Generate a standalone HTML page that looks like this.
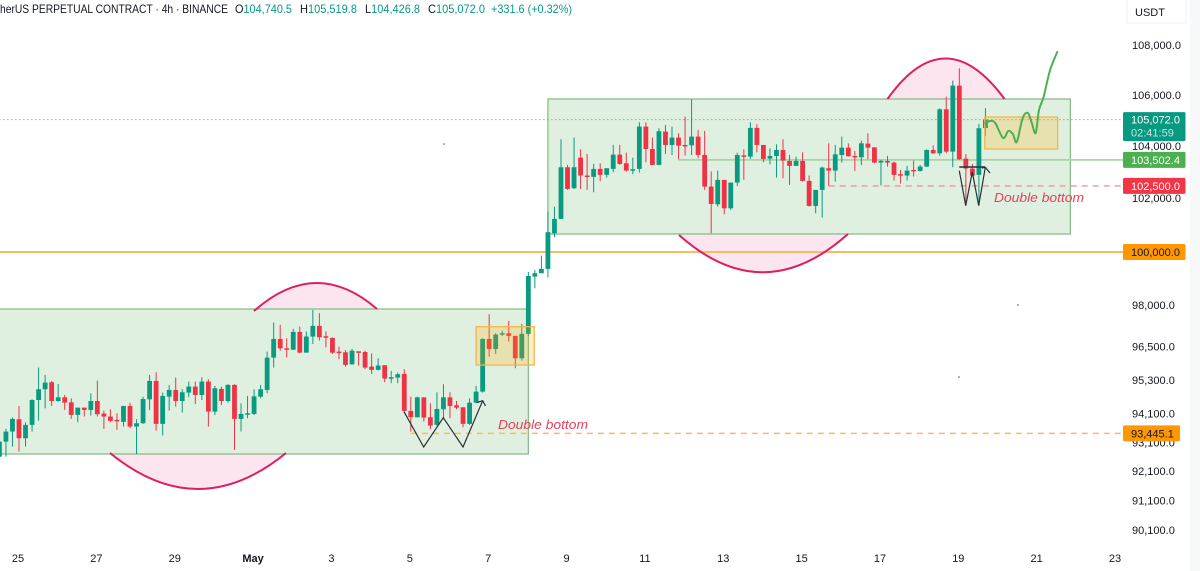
<!DOCTYPE html>
<html lang="en">
<head>
<meta charset="utf-8">
<title>Bitcoin perpetual 4h chart</title>
<style>
html,body{margin:0;padding:0;background:#fff;}
svg{display:block;font-family:"Liberation Sans",sans-serif;}
</style>
</head>
<body>
<svg id="chart" xmlns="http://www.w3.org/2000/svg" width="1200" height="571" viewBox="0 0 1200 571">
  <rect x="0" y="0" width="1200" height="571" fill="#ffffff"/>
  <rect x="1190" y="0" width="10" height="571" fill="#f7f8f9"/>

  <path d="M110,454 Q198,525 286,454 Z" fill="#fce5ee" stroke="none"/>
  <path d="M254,311 Q316,256 377,309 Z" fill="#fce5ee" stroke="none"/>
  <path d="M679,234 Q763,310 848,234 Z" fill="#fce5ee" stroke="none"/>
  <path d="M887.5,99 Q945,18 1004.5,99 Z" fill="#fce5ee" stroke="none"/>

  <g id="zones"></g>
  <g id="levels"></g>

  <path d="M110,453 Q198,525 286,453" fill="none" stroke="#dc1f64" stroke-width="2"/>
  <path d="M254,311 Q316,256 377,309" fill="none" stroke="#dc1f64" stroke-width="2"/>
  <path d="M679,235 Q763,310 848,234" fill="none" stroke="#dc1f64" stroke-width="2"/>
  <path d="M887.5,99 Q945,18 1004.5,99" fill="none" stroke="#dc1f64" stroke-width="2"/>

  <g id="candles"></g>
  <g id="overlays"></g>

  <path d="M404,411.7 L423.7,447 L443.3,417.7 L463,447 L482.7,400.7" fill="none" stroke="#2a2e39" stroke-width="1.2"/>
  <path d="M477,402.5 L482.7,400.7 L485.5,406" fill="none" stroke="#2a2e39" stroke-width="1.2"/>
  <path d="M959.3,170.7 L965.7,205.7 L972.3,172 L978.7,205.7 L985.3,167.3" fill="none" stroke="#2a2e39" stroke-width="1.2"/>
  <path d="M959.3,167 L985,167" fill="none" stroke="#2a2e39" stroke-width="1.5"/>
  <path d="M982,168 L985.3,167.3 L990,173" fill="none" stroke="#2a2e39" stroke-width="1.2"/>

  <path id="forecast" fill="none" stroke="#4caf50" stroke-width="2" stroke-linejoin="round" stroke-linecap="round"/>

  <text x="498" y="429" font-size="12.5" font-style="italic" fill="#e8405a" textLength="90" lengthAdjust="spacingAndGlyphs">Double bottom</text>
  <text x="994" y="202" font-size="12.5" font-style="italic" fill="#e8405a" textLength="90" lengthAdjust="spacingAndGlyphs">Double bottom</text>

  <circle cx="444" cy="144" r="0.8" fill="#555"/>
  <circle cx="1018" cy="305" r="0.8" fill="#555"/>
  <circle cx="959" cy="377" r="0.8" fill="#555"/>

  <g id="price-axis"></g>
  <g id="tags"></g>
  <g id="time-axis"></g>

  <rect x="1127" y="-1" width="59" height="24" fill="#ffffff" stroke="#f0f1f3"/>
  <text x="1135" y="16" font-size="11" fill="#131722">USDT</text>

  <g font-size="12">
    <text x="0" y="13" fill="#131722" textLength="228" lengthAdjust="spacingAndGlyphs">herUS PERPETUAL CONTRACT · 4h · BINANCE</text>
    <text x="235" y="13" fill="#089981" textLength="57" lengthAdjust="spacingAndGlyphs"><tspan fill="#131722">O</tspan>104,740.5</text>
    <text x="300" y="13" fill="#089981" textLength="57" lengthAdjust="spacingAndGlyphs"><tspan fill="#131722">H</tspan>105,519.8</text>
    <text x="365" y="13" fill="#089981" textLength="55" lengthAdjust="spacingAndGlyphs"><tspan fill="#131722">L</tspan>104,426.8</text>
    <text x="428" y="13" fill="#089981" textLength="57" lengthAdjust="spacingAndGlyphs"><tspan fill="#131722">C</tspan>105,072.0</text>
    <text x="491" y="13" fill="#089981" textLength="81" lengthAdjust="spacingAndGlyphs">+331.6 (+0.32%)</text>
  </g>
</svg>
<script>
var opens = [
92636,93160,93510,93942,93277,93744,94619,95000,95250,94584,
94714,94537,94094,94351,94269,94584,94141,94036,93919,93849,
94409,93685,93802,94643,95297,93779,94738,94976,94584,94881,
95095,94798,95274,94211,95012,94584,95155,93954,94129,94129,
94738,94976,96130,96804,96465,96416,97058,96309,96889,97277,
96901,96840,96345,96321,95892,96356,96333,95809,95690,95857,
95393,95416,95547,94234,94012,94714,94012,93744,94292,94714,
94432,94362,93779,94526,94917,96804,96440,96962,97010,96913,
96107,96986,99087,99210,99371,100704,101245,103218,102411,103590,
102898,102847,103154,102924,103154,103706,103372,103103,103154,104799,
103924,103308,104603,104081,104368,104081,104068,104407,103693,102475,
101798,102731,101647,102629,103680,103629,104747,104081,103552,103654,
103885,103462,103270,103462,102693,101736,102347,103180,103090,103692,
103976,103654,103603,104133,103989,103398,103462,103398,102949,102898,
103116,103077,103244,103885,103757,105478,103821,106416,103551,103167,
102924,104740
];
var highs = [
93160,93604,94000,94409,93837,94643,95773,95512,95297,95190,
94798,94679,94351,94351,94857,95309,94246,94292,94152,94409,
94526,93942,94738,95512,95607,94881,95155,95416,95000,95274,
95274,95428,95357,95119,95095,95178,95178,94502,94762,95000,
95155,96345,97398,97313,96828,97168,97252,97071,97858,97737,
97071,96865,96525,96404,96440,96356,96380,96285,96107,95857,
95654,95595,95714,94738,94738,94714,94502,94893,95178,94893,
94584,94362,94679,95119,96828,97701,97010,97107,97458,96913,
97349,99255,99334,99865,101522,101710,104303,103308,104368,103911,
103731,103347,103372,103180,104085,104085,103782,103590,104969,104969,
104368,104734,104864,104799,104538,105191,105870,104668,104629,103052,
103090,102731,102629,103782,103911,104969,104890,104081,103949,104107,
104303,103693,103629,103795,102898,102347,103244,104146,104081,104407,
104146,103846,104250,104538,103989,103500,103654,103436,103116,103270,
103475,103308,103911,104068,105517,105977,106616,107108,103731,103346,
104904,105519.8
];
var lows = [
92578,92636,92985,92810,92985,93510,93895,94327,94409,94560,
94269,93954,93837,94036,94071,94036,93604,93837,93569,93685,
93627,92728,93779,94269,93545,93370,94246,94386,94175,94714,
94479,94619,93685,94094,94444,94526,92868,93510,93977,94094,
94679,94857,95773,96380,96142,96404,96285,96309,96622,96743,
96501,96261,96071,95809,95869,95845,95714,95547,95666,95250,
95214,95214,94187,93510,94000,93860,93592,93720,93942,93977,
94292,93662,93744,94502,94881,96166,96261,96913,96707,95749,
96023,96910,98655,99210,99050,100553,101245,102347,102385,102385,
102347,102257,102680,102821,103026,103308,103052,102949,103013,103411,
103296,103296,103731,103693,103526,103667,103693,103565,102347,100704,
101710,101421,101585,102501,102731,103539,103795,103411,103334,102821,
102795,102539,103270,102667,101710,101459,101295,102500,102667,103398,
103628,103077,103308,103526,103372,102513,103244,102706,102590,102706,
102860,103052,103231,103731,103667,103757,103218,103500,101773,102860,
101773,104426.8
];
var closes = [
93160,93510,93954,93277,93744,94619,95000,95238,94584,94714,
94526,94094,94351,94269,94584,94118,94036,93884,93895,94409,
93685,93802,94655,95297,93779,94762,94976,94584,94893,95095,
94798,95274,94211,95036,94584,95155,93954,94129,94152,94750,
95000,96130,96804,96465,96440,97058,96309,96889,97277,96865,
96877,96309,96321,95869,96380,96321,95773,95690,95845,95381,
95428,95535,94234,94012,94714,94000,93720,94304,94714,94409,
94351,93779,94526,94917,96804,96440,96962,97010,96913,96107,
96986,99107,99210,99371,100742,101245,103218,102385,103218,102898,
102847,103154,102924,103180,103706,103347,103090,103141,104799,103924,
103308,104616,104081,104368,104055,104055,104407,103693,102475,101811,
102731,101647,102629,103693,103629,104747,104081,103539,103654,103885,
103475,103270,103462,102693,101736,102347,103205,103090,103718,103976,
103641,103628,104146,103976,103398,103462,103398,102924,102924,103090,
103090,103244,103885,103757,105478,103821,106416,103526,103167,102898,
104734,105072
];

var dayLabels = ['25','27','29','May','3','5','7','9','11','13','15','17','19','21','23'];
var dayOffsets = [0,2,4,6,8,10,12,14,16,18,20,22,24,26,28];

var priceTicks = [108000,106000,104000,102000,100000,98000,96500,95300,94100,93100,92100,91100,90100];

var forecastIndex = [148,148.7,149.5,150.7,151.5,152.2,152.8,153.7,154.5,155.1,155.7,156.2,156.9,157.9,159];
var forecastPrice = [104938,105017,104938,104352,104626,104509,104197,105135,105331,104938,104547,105449,105963,107038,107760];

var lastPrice = 105072;
var entryLevel = 103502.4;
var stopLevel = 102500;
var roundLevel = 100000;
var supportLevel = 93445.1;

var zoneLeftIndex = [-3,81];
var zoneRightIndex = [78,161];
var zoneTopPrice = [97893,105884];
var zoneBottomPrice = [92729,100675];

var targetLeftIndex = [70,147.9];
var targetRightIndex = [78.9,159.06];
var targetTopPrice = [97247,105174];
var targetBottomPrice = [95865,103924];

var NS = 'http://www.w3.org/2000/svg';
var firstCandleIndex = -3;

function xScale(i){ return 19 + 6.53 * i; }
function yScale(p){ return 252 - 2676 * Math.log(p / 100000); }
function fmt(p){
  var s = p.toFixed(1).split('.');
  return s[0].replace(/\B(?=(\d{3})+(?!\d))/g, ',') + '.' + s[1];
}
function mk(tag, parent, attrs){
  var el = document.createElementNS(NS, tag);
  for (var k in attrs) el.setAttribute(k, attrs[k]);
  parent.appendChild(el);
  return el;
}

var zones = document.getElementById('zones');
zoneLeftIndex.forEach(function(l, i){
  var x0 = xScale(l), x1 = xScale(zoneRightIndex[i]);
  var y0 = yScale(zoneTopPrice[i]), y1 = yScale(zoneBottomPrice[i]);
  var r = mk('rect', zones, {x:x0, y:y0, width:x1-x0, height:y1-y0, fill:'#e0f0e0', stroke:'#82b982', 'stroke-width':1.2});
  
  
});

var levels = document.getElementById('levels');
function hLine(price, fromIdx, color, width, dash, name){
  var y = yScale(price);
  var l = mk('line', levels, {x1:xScale(fromIdx), x2:1123, y1:y, y2:y, stroke:color, 'stroke-width':width});
  if (dash) l.setAttribute('stroke-dasharray', dash);
  
  
}
hLine(lastPrice, -3, '#2f9f8a', 1, '1 3', 'last-price-line');
hLine(roundLevel, -3, '#f7bb62', 2, null, 'round-number-level');
hLine(entryLevel, 101, '#a8d4a8', 1.8, null, 'entry-level');
hLine(stopLevel, 124, '#e8979f', 1.3, '6 5', 'stop-level');
hLine(supportLevel, 60, '#f5bd63', 1.5, '6 5', 'support-level');

var candles = document.getElementById('candles');
opens.forEach(function(o, n){
  var c = closes[n], idx = firstCandleIndex + n;
  var color = c >= o ? '#0a9a80' : '#ee3347';
  var x = xScale(idx);
  var top = yScale(Math.max(o, c)), bot = yScale(Math.min(o, c));
  var g = mk('g', candles, {});
  
  
  mk('line', g, {x1:x, x2:x, y1:yScale(highs[n]), y2:yScale(lows[n]), stroke:color, 'stroke-width':1});
  mk('rect', g, {x:x-2.4, y:top, width:4.8, height:Math.max(bot-top, 1.5), fill:color});
});

var overlays = document.getElementById('overlays');
targetLeftIndex.forEach(function(l, i){
  var x0 = xScale(l), x1 = xScale(targetRightIndex[i]);
  var y0 = yScale(targetTopPrice[i]), y1 = yScale(targetBottomPrice[i]);
  var r = mk('rect', overlays, {x:x0, y:y0, width:x1-x0, height:y1-y0, fill:'rgba(255,170,0,0.22)', stroke:'#f6b44a', 'stroke-width':1.3});
  
  
});

var fx = forecastIndex.map(xScale);
var fy = forecastPrice.map(yScale);
var fd = 'M' + fx[0].toFixed(1) + ',' + fy[0].toFixed(1);
for (var k = 0; k < fx.length - 1; k++) {
  var k0 = Math.max(k - 1, 0), k3 = Math.min(k + 2, fx.length - 1);
  var c1x = fx[k] + (fx[k+1] - fx[k0]) / 6, c1y = fy[k] + (fy[k+1] - fy[k0]) / 6;
  var c2x = fx[k+1] - (fx[k3] - fx[k]) / 6, c2y = fy[k+1] - (fy[k3] - fy[k]) / 6;
  fd += ' C' + c1x.toFixed(1) + ',' + c1y.toFixed(1) + ' ' + c2x.toFixed(1) + ',' + c2y.toFixed(1) + ' ' + fx[k+1].toFixed(1) + ',' + fy[k+1].toFixed(1);
}
document.getElementById('forecast').setAttribute('d', fd);

var priceAxis = document.getElementById('price-axis');
priceTicks.forEach(function(p){
  var t = mk('text', priceAxis, {x:1132, y:yScale(p)+3, 'font-size':11, fill:'#131722'});
  t.textContent = fmt(p);
  
  
});

var tags = document.getElementById('tags');
function tag(price, w, h, fill, textColor, name){
  var y = yScale(price);
  var r = mk('rect', tags, {x:1123, y:y-h/2, width:w, height:h, rx:1.5, fill:fill});
  
  
  var t = mk('text', tags, {x:1131, y:y+4, 'font-size':11, fill:textColor});
  t.textContent = fmt(price);
  
  
}
tag(entryLevel, 62.5, 16, '#4caf50', '#ffffff', 'entry-price-tag');
tag(stopLevel, 62.5, 16, '#f23645', '#ffffff', 'stop-price-tag');
tag(roundLevel, 62.5, 16, '#ff9800', '#131722', 'round-price-tag');
tag(supportLevel, 57, 16, '#ff9800', '#131722', 'support-price-tag');

var lastY = yScale(lastPrice);
var lastBox = mk('rect', tags, {x:1123, y:lastY-7.5, width:62.5, height:29, rx:1.5, fill:'#089981'});


var lastText = mk('text', tags, {x:1131, y:lastY+4, 'font-size':11, fill:'#ffffff'});
lastText.textContent = fmt(lastPrice);


var cd = mk('text', tags, {x:1131, y:lastY+17, 'font-size':11, fill:'#c4e6df'});
cd.textContent = '02:41:59';



var timeAxis = document.getElementById('time-axis');
dayLabels.forEach(function(lbl, n){
  var isMonth = lbl === 'May';
  var t = mk('text', timeAxis, {x:xScale(dayOffsets[n]*6)-1, y:562, 'font-size':11, fill:'#131722', 'text-anchor':'middle', 'font-weight':isMonth ? 'bold' : 'normal'});
  t.textContent = lbl;
  
  
});
</script>
</body>
</html>
